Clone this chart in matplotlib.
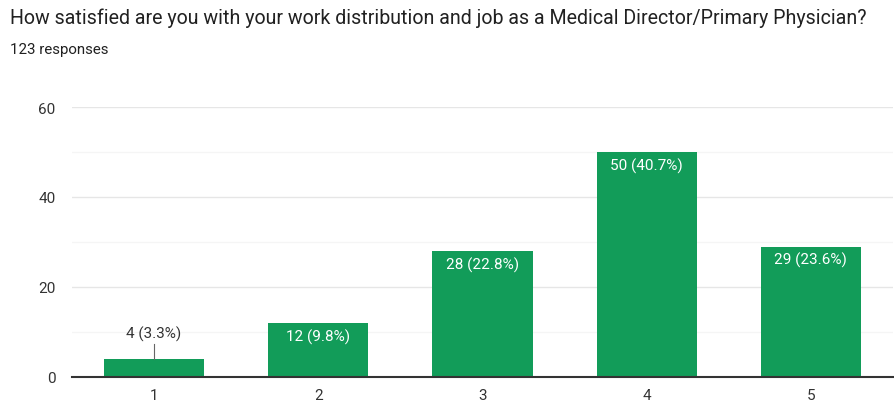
import matplotlib.pyplot as plt

plt.rcParams['font.family'] = ['Roboto', 'DejaVu Sans']

categories = ['1', '2', '3', '4', '5']
counts = [4, 12, 28, 50, 29]
labels = ['4 (3.3%)', '12 (9.8%)', '28 (22.8%)', '50 (40.7%)', '29 (23.6%)']

green = '#129c59'

fig = plt.figure(figsize=(8.94, 4.1), dpi=100)
ax = fig.add_axes([72 / 894, 32 / 410, 821 / 894, 270 / 410])

x = range(len(categories))
ax.bar(x, counts, width=0.61, color=green, zorder=3)

ax.set_xlim(-0.5, len(categories) - 0.5)
ax.set_ylim(0, 60)
ax.set_yticks([0, 20, 40, 60])
ax.set_yticks([10, 30, 50], minor=True)
ax.set_xticks(list(x))
ax.set_xticklabels(categories)
ax.grid(axis='y', which='major', color='#e6e6e6', linewidth=1, zorder=0)
ax.grid(axis='y', which='minor', color='#f5f5f5', linewidth=1, zorder=0)
ax.tick_params(axis='both', which='both', length=0, labelsize=11, labelcolor='#333333')
ax.tick_params(axis='y', pad=12)
ax.tick_params(axis='x', pad=8)
for s in ['top', 'right', 'left']:
    ax.spines[s].set_visible(False)
ax.spines['bottom'].set_color('#333333')
ax.spines['bottom'].set_linewidth(1.5)
ax.spines['bottom'].set_zorder(4)

for i, (c, lab) in enumerate(zip(counts, labels)):
    if c < 8:
        ax.plot([i, i], [c, c + 3.3], color='#666666', linewidth=0.8, zorder=4)
        ax.text(i, c + 4, lab, ha='center', va='bottom', fontsize=11, color='#333333')
    else:
        ax.text(i, c - 1.2, lab, ha='center', va='top', fontsize=11, color='white', zorder=5)

fig.text(10 / 894, 1 - 18 / 410, 'How satisfied are you with your work distribution and job as a Medical Director/Primary Physician?',
         fontsize=14.1, color='#212121', va='center', ha='left')
fig.text(10 / 894, 1 - 50 / 410, '123 responses', fontsize=10.8, color='#212121', va='center', ha='left')

fig.savefig('out.png', dpi=100)
